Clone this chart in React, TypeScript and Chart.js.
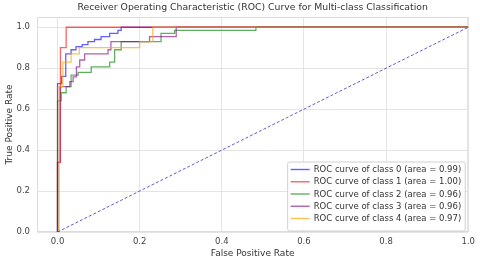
import React, { useEffect, useRef } from 'react';
import { Chart, registerables } from 'chart.js';

Chart.register(...registerables);

const chartTitle = 'Receiver Operating Characteristic (ROC) Curve for Multi-class Classification';
const xAxisTitle = 'False Positive Rate';
const yAxisTitle = 'True Positive Rate';

const classLabels = [
  'ROC curve of class 0 (area = 0.99)',
  'ROC curve of class 1 (area = 1.00)',
  'ROC curve of class 2 (area = 0.96)',
  'ROC curve of class 3 (area = 0.96)',
  'ROC curve of class 4 (area = 0.97)',
];
const classColors = [
  'rgba(0,0,255,0.62)',
  'rgba(255,0,0,0.62)',
  'rgba(0,128,0,0.62)',
  'rgba(128,0,128,0.62)',
  'rgba(255,165,0,0.68)',
];

// class 0
const fpr0 = [0, 0, 0.01, 0.01, 0.02, 0.02, 0.033, 0.033, 0.045, 0.045, 0.06, 0.06, 0.074, 0.074, 0.09, 0.09, 0.106, 0.106, 0.127, 0.127, 0.147, 0.147, 0.155, 0.155, 1];
const tpr0 = [0, 0.725, 0.725, 0.76, 0.76, 0.87, 0.87, 0.89, 0.89, 0.905, 0.905, 0.915, 0.915, 0.93, 0.93, 0.94, 0.94, 0.954, 0.954, 0.97, 0.97, 0.985, 0.985, 1, 1];
// class 1
const fpr1 = [0, 0, 0.007, 0.007, 0.021, 0.021, 1];
const tpr1 = [0, 0.34, 0.34, 0.9, 0.9, 1, 1];
// class 2
const fpr2 = [0, 0, 0.009, 0.009, 0.021, 0.021, 0.033, 0.033, 0.05, 0.05, 0.082, 0.082, 0.127, 0.127, 0.139, 0.139, 0.155, 0.155, 0.252, 0.252, 0.285, 0.285, 0.483, 0.483, 1];
const tpr2 = [0, 0.64, 0.64, 0.68, 0.68, 0.71, 0.71, 0.766, 0.766, 0.78, 0.78, 0.806, 0.806, 0.83, 0.83, 0.89, 0.89, 0.93, 0.93, 0.97, 0.97, 0.985, 0.985, 1, 1];
// class 3
const fpr3 = [0, 0, 0.006, 0.006, 0.03, 0.03, 0.038, 0.038, 0.046, 0.046, 0.054, 0.054, 0.066, 0.066, 0.123, 0.123, 0.13, 0.13, 0.224, 0.224, 0.289, 0.289, 1];
const tpr3 = [0, 0.34, 0.34, 0.71, 0.71, 0.734, 0.734, 0.758, 0.758, 0.806, 0.806, 0.84, 0.84, 0.87, 0.87, 0.89, 0.89, 0.93, 0.93, 0.954, 0.954, 1, 1];
// class 4
const fpr4 = [0, 0.004, 0.004, 0.013, 0.013, 0.033, 0.033, 0.053, 0.053, 0.2, 0.2, 0.232, 0.232, 1];
const tpr4 = [0, 0, 0.71, 0.71, 0.83, 0.83, 0.87, 0.87, 0.9, 0.9, 0.93, 0.93, 1, 1];

const diagX = [0, 1];
const diagY = [0, 1];

const xTicks = [0, 0.2, 0.4, 0.6, 0.8, 1.0];
const yTicks = [0, 0.2, 0.4, 0.6, 0.8, 1.0];

const FONT = "'DejaVu Sans', sans-serif";

const fprs = [fpr0, fpr1, fpr2, fpr3, fpr4];
const tprs = [tpr0, tpr1, tpr2, tpr3, tpr4];

const toPoints = (xs: number[], ys: number[]) => xs.map((x, i) => ({ x, y: ys[i] }));

const framePlugin = {
  id: 'frame',
  beforeDatasetsDraw(chart: any) {
    const { ctx, chartArea: a } = chart;
    ctx.save();
    ctx.strokeStyle = '#dcdcdc';
    ctx.lineWidth = 1;
    ctx.strokeRect(a.left + 0.5, a.top + 0.5, a.right - a.left - 1, a.bottom - a.top - 1);
    ctx.restore();
  },
};

const titlePlugin = {
  id: 'customTitle',
  afterDraw(chart: any) {
    const { ctx, chartArea: a } = chart;
    ctx.save();
    ctx.font = `9.3px ${FONT}`;
    ctx.fillStyle = '#333';
    ctx.textAlign = 'center';
    ctx.textBaseline = 'middle';
    ctx.fillText(chartTitle, (a.left + a.right) / 2, 8);
    ctx.restore();
  },
};

const legendPlugin = {
  id: 'customLegend',
  afterDraw(chart: any) {
    const { ctx, chartArea: a } = chart;
    ctx.save();
    ctx.font = `8.5px ${FONT}`;
    let tw = 0;
    classLabels.forEach((l) => { tw = Math.max(tw, ctx.measureText(l).width); });
    const handle = 19;
    const w = 3 + handle + 4 + tw + 4;
    const h = 69;
    const right = a.right - 3;
    const bottom = a.bottom - 1;
    const left = right - w;
    const top = bottom - h;
    ctx.beginPath();
    const r = 2;
    ctx.moveTo(left + r, top);
    ctx.lineTo(right - r, top);
    ctx.quadraticCurveTo(right, top, right, top + r);
    ctx.lineTo(right, bottom - r);
    ctx.quadraticCurveTo(right, bottom, right - r, bottom);
    ctx.lineTo(left + r, bottom);
    ctx.quadraticCurveTo(left, bottom, left, bottom - r);
    ctx.lineTo(left, top + r);
    ctx.quadraticCurveTo(left, top, left + r, top);
    ctx.closePath();
    ctx.fillStyle = 'rgba(255,255,255,0.85)';
    ctx.fill();
    ctx.strokeStyle = '#d0d0d0';
    ctx.lineWidth = 1;
    ctx.stroke();
    classLabels.forEach((l, i) => {
      const y = top + 7.5 + i * 12.25;
      ctx.strokeStyle = classColors[i];
      ctx.lineWidth = 1.4;
      ctx.beginPath();
      ctx.moveTo(left + 3, y);
      ctx.lineTo(left + 3 + handle, y);
      ctx.stroke();
      ctx.fillStyle = '#333';
      ctx.textAlign = 'left';
      ctx.textBaseline = 'middle';
      ctx.fillText(l, left + 3 + handle + 4, y + 0.5);
    });
    ctx.restore();
  },
};

export default function App() {
  const ref = useRef<HTMLCanvasElement | null>(null);
  useEffect(() => {
    if (!ref.current) return;
    const datasets: any[] = classLabels.map((label, i) => ({
      label,
      data: toPoints(fprs[i], tprs[i]),
      borderColor: classColors[i],
      borderWidth: 1.3,
      pointRadius: 0,
      showLine: true,
      fill: false,
      tension: 0,
      order: 10 - i,
    }));
    datasets.push({
      label: 'diag',
      data: toPoints(diagX, diagY),
      borderColor: 'rgba(40,40,190,0.75)',
      borderWidth: 1,
      borderDash: [3, 2],
      pointRadius: 0,
      showLine: true,
      fill: false,
      order: 0,
    });
    const chart = new Chart(ref.current, {
      type: 'scatter',
      data: { datasets },
      plugins: [framePlugin, titlePlugin, legendPlugin],
      options: {
        responsive: false,
        animation: false,
        layout: { padding: { top: 17, right: 11, left: 0, bottom: 0 } },
        plugins: { legend: { display: false }, tooltip: { enabled: false }, title: { display: false } },
        scales: {
          x: {
            type: 'linear',
            min: -0.05,
            max: 1.0,
            afterBuildTicks: (s: any) => { s.ticks = xTicks.map((v) => ({ value: v })); },
            afterFit: (s: any) => { s.height = 31; },
            ticks: {
              callback: (v: any) => Number(v).toFixed(1),
              font: { family: FONT, size: 8.5 },
              color: '#444',
              padding: 5,
              autoSkip: false,
              maxRotation: 0,
            },
            grid: { color: '#e4e4e4', drawTicks: false, lineWidth: 1 },
            border: { display: false },
            title: { display: true, text: xAxisTitle, font: { family: FONT, size: 9 }, color: '#333', padding: { top: 0, bottom: 4 } },
          },
          y: {
            type: 'linear',
            min: 0,
            max: 1.05,
            afterBuildTicks: (s: any) => { s.ticks = yTicks.map((v) => ({ value: v })); },
            afterFit: (s: any) => { s.width = 37; },
            ticks: {
              callback: (v: any) => Number(v).toFixed(1),
              font: { family: FONT, size: 8.5 },
              color: '#444',
              padding: 7,
              autoSkip: false,
            },
            grid: { color: '#e4e4e4', drawTicks: false, lineWidth: 1 },
            border: { display: false },
            title: { display: true, text: yAxisTitle, font: { family: FONT, size: 9 }, color: '#333', padding: { top: 4, bottom: 0 } },
          },
        },
      },
    } as any);
    return () => chart.destroy();
  }, []);
  return (
    <div style={{ position: 'fixed', left: 0, top: 0, width: 480, height: 263, background: '#fff' }}>
      <canvas ref={ref} width={480} height={263} />
    </div>
  );
}
